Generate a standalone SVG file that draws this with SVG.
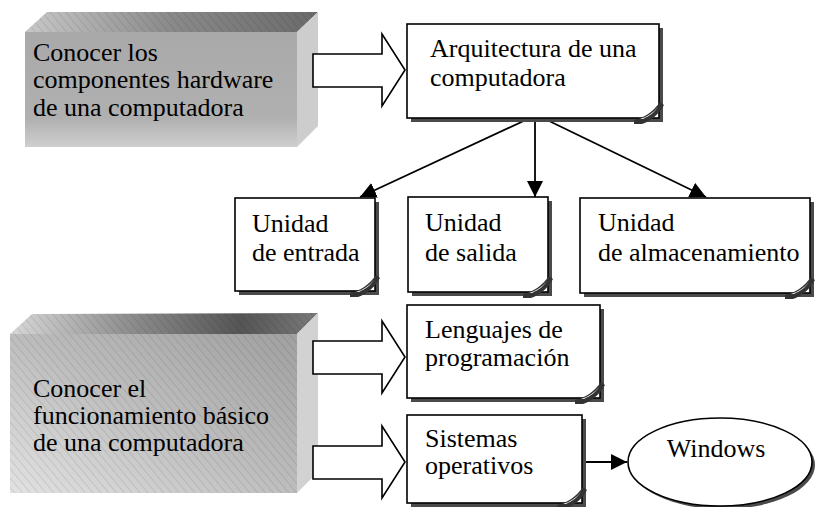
<svg xmlns="http://www.w3.org/2000/svg" width="815" height="507" viewBox="0 0 815 507">
<style>
  text { font-family: "Liberation Serif", "Times New Roman", serif; font-size: 26px; fill: #000; }
  .box { fill: #fff; stroke: #000; stroke-width: 1.6; }
  .shadow { fill: #4a4a4a; }
  .barrow { fill: #fff; stroke: #000; stroke-width: 1.6; stroke-linejoin: miter; }
  .conn { fill: none; stroke: #000; stroke-width: 1.8; }
</style>
<defs>
  <marker id="ah" markerUnits="userSpaceOnUse" markerWidth="18" markerHeight="16" refX="16" refY="8" orient="auto">
    <path d="M0,0 L16,8 L0,16 Z" fill="#000"/>
  </marker>
  <g id="fold">
    <path d="M-26,1 C-16,-1 -7,-7 0,-17 L4,-14 C-1,-5 -9,2 -18,5 L-26,5 Z" fill="#333"/>
    <path d="M-20,0 C-13,-2 -7,-6 -2,-12 C-6,-6 -11,-3 -17,0 Z" fill="#fff"/>
  </g>
  <linearGradient id="front1" x1="0" y1="0" x2="0" y2="1">
    <stop offset="0" stop-color="#a9a9a9"/>
    <stop offset="0.75" stop-color="#b0b0b0"/>
    <stop offset="1" stop-color="#cfcfcf"/>
  </linearGradient>
  <linearGradient id="top1" x1="0" y1="0" x2="1" y2="0">
    <stop offset="0" stop-color="#c8c8c8"/>
    <stop offset="0.5" stop-color="#8a8a8a"/>
    <stop offset="1" stop-color="#6a6a6a"/>
  </linearGradient>
  <linearGradient id="front2" x1="0" y1="1" x2="1" y2="0">
    <stop offset="0" stop-color="#e2e2e2"/>
    <stop offset="0.5" stop-color="#bdbdbd"/>
    <stop offset="1" stop-color="#a0a0a0"/>
  </linearGradient>
  <linearGradient id="top2" x1="0" y1="0" x2="1" y2="0">
    <stop offset="0" stop-color="#d8d8d8"/>
    <stop offset="0.4" stop-color="#8c8c8c"/>
    <stop offset="0.75" stop-color="#555"/>
    <stop offset="1" stop-color="#7a7a7a"/>
  </linearGradient>
  <pattern id="hatch" patternUnits="userSpaceOnUse" width="6" height="6" patternTransform="rotate(-40)">
    <line x1="0" y1="0" x2="0" y2="6" stroke="#000" stroke-width="1" stroke-opacity="0.18"/>
  </pattern>
</defs>

<!-- Shaded block 1 -->
<g id="block-hardware">
  <polygon points="25,32 47,12 318,12 297,32" fill="url(#top1)"/>
  <polygon points="25,32 47,12 318,12 297,32" fill="url(#hatch)"/>
  <polygon points="297,32 318,12 318,126 297,147" fill="#cdcdcd"/>
  <rect x="25" y="32" width="272" height="115" fill="url(#front1)"/>
  <text x="33" y="61">Conocer los</text>
  <text x="33" y="88">componentes hardware</text>
  <text x="33" y="116">de una computadora</text>
</g>

<!-- Shaded block 2 -->
<g id="block-funcionamiento">
  <polygon points="10,334 32,314 318,313 297,334" fill="url(#top2)"/>
  <polygon points="10,334 32,314 318,313 297,334" fill="url(#hatch)"/>
  <polygon points="297,334 318,313 318,472 297,493" fill="#d2d2d2"/>
  <rect x="10" y="334" width="287" height="159" fill="url(#front2)"/>
  <rect x="10" y="334" width="287" height="159" fill="url(#hatch)"/>
  <text x="33" y="397">Conocer el</text>
  <text x="33" y="424">funcionamiento básico</text>
  <text x="33" y="451">de una computadora</text>
</g>

<!-- Connectors -->
<g id="connectors">
  <path class="barrow" d="M313,54 L382,54 L382,34 L405,70 L382,106 L382,87 L313,87 Z"/>
  <path class="barrow" d="M313,341 L382,341 L382,321 L405,357 L382,393 L382,374 L313,374 Z"/>
  <path class="barrow" d="M313,446 L382,446 L382,426 L405,462 L382,498 L382,479 L313,479 Z"/>
  <line class="conn" x1="528" y1="119" x2="360" y2="197" marker-end="url(#ah)"/>
  <line class="conn" x1="535" y1="119" x2="535" y2="197" marker-end="url(#ah)"/>
  <line class="conn" x1="545" y1="119" x2="706" y2="197" marker-end="url(#ah)"/>
  <line class="conn" x1="583" y1="462" x2="627" y2="462" marker-end="url(#ah)"/>
</g>

<!-- Nodes -->
<g id="node-arquitectura">
  <path class="shadow" d="M659,28 L663,28 L663,122 L411,122 L411,118 L659,118 Z"/>
  <rect class="box" x="407" y="24" width="252" height="94"/>
  <use href="#fold" x="660" y="119"/>
  <text x="430" y="57">Arquitectura de una</text>
  <text x="430" y="86">computadora</text>
</g>

<g id="node-entrada">
  <path class="shadow" d="M375,202 L379,202 L379,295 L239,295 L239,291 L375,291 Z"/>
  <rect class="box" x="235" y="198" width="140" height="93"/>
  <use href="#fold" x="376" y="292"/>
  <text x="252" y="232">Unidad</text>
  <text x="252" y="261">de entrada</text>
</g>

<g id="node-salida">
  <path class="shadow" d="M548,201 L552,201 L552,296 L412,296 L412,292 L548,292 Z"/>
  <rect class="box" x="408" y="197" width="140" height="95"/>
  <use href="#fold" x="549" y="293"/>
  <text x="425" y="231">Unidad</text>
  <text x="425" y="261">de salida</text>
</g>

<g id="node-almacenamiento">
  <path class="shadow" d="M810,202 L814,202 L814,297 L584,297 L584,293 L810,293 Z"/>
  <rect class="box" x="580" y="198" width="230" height="95"/>
  <use href="#fold" x="811" y="294"/>
  <text x="598" y="231">Unidad</text>
  <text x="598" y="261">de almacenamiento</text>
</g>

<g id="node-lenguajes">
  <path class="shadow" d="M600,309 L604,309 L604,402 L411,402 L411,398 L600,398 Z"/>
  <rect class="box" x="407" y="305" width="193" height="93"/>
  <use href="#fold" x="601" y="399"/>
  <text x="425" y="338">Lenguajes de</text>
  <text x="425" y="366">programación</text>
</g>

<g id="node-sistemas">
  <path class="shadow" d="M582,419 L586,419 L586,507 L411,507 L411,503 L582,503 Z"/>
  <rect class="box" x="407" y="415" width="175" height="88"/>
  <use href="#fold" x="583" y="504"/>
  <text x="425" y="447">Sistemas</text>
  <text x="425" y="474">operativos</text>
</g>

<g id="node-windows">
  <ellipse cx="723" cy="465" rx="92" ry="44" fill="#4a4a4a"/>
  <ellipse cx="720" cy="462" rx="92" ry="44" fill="#fff" stroke="#000" stroke-width="1.6"/>
  <text x="716" y="457" text-anchor="middle">Windows</text>
</g>
</svg>
